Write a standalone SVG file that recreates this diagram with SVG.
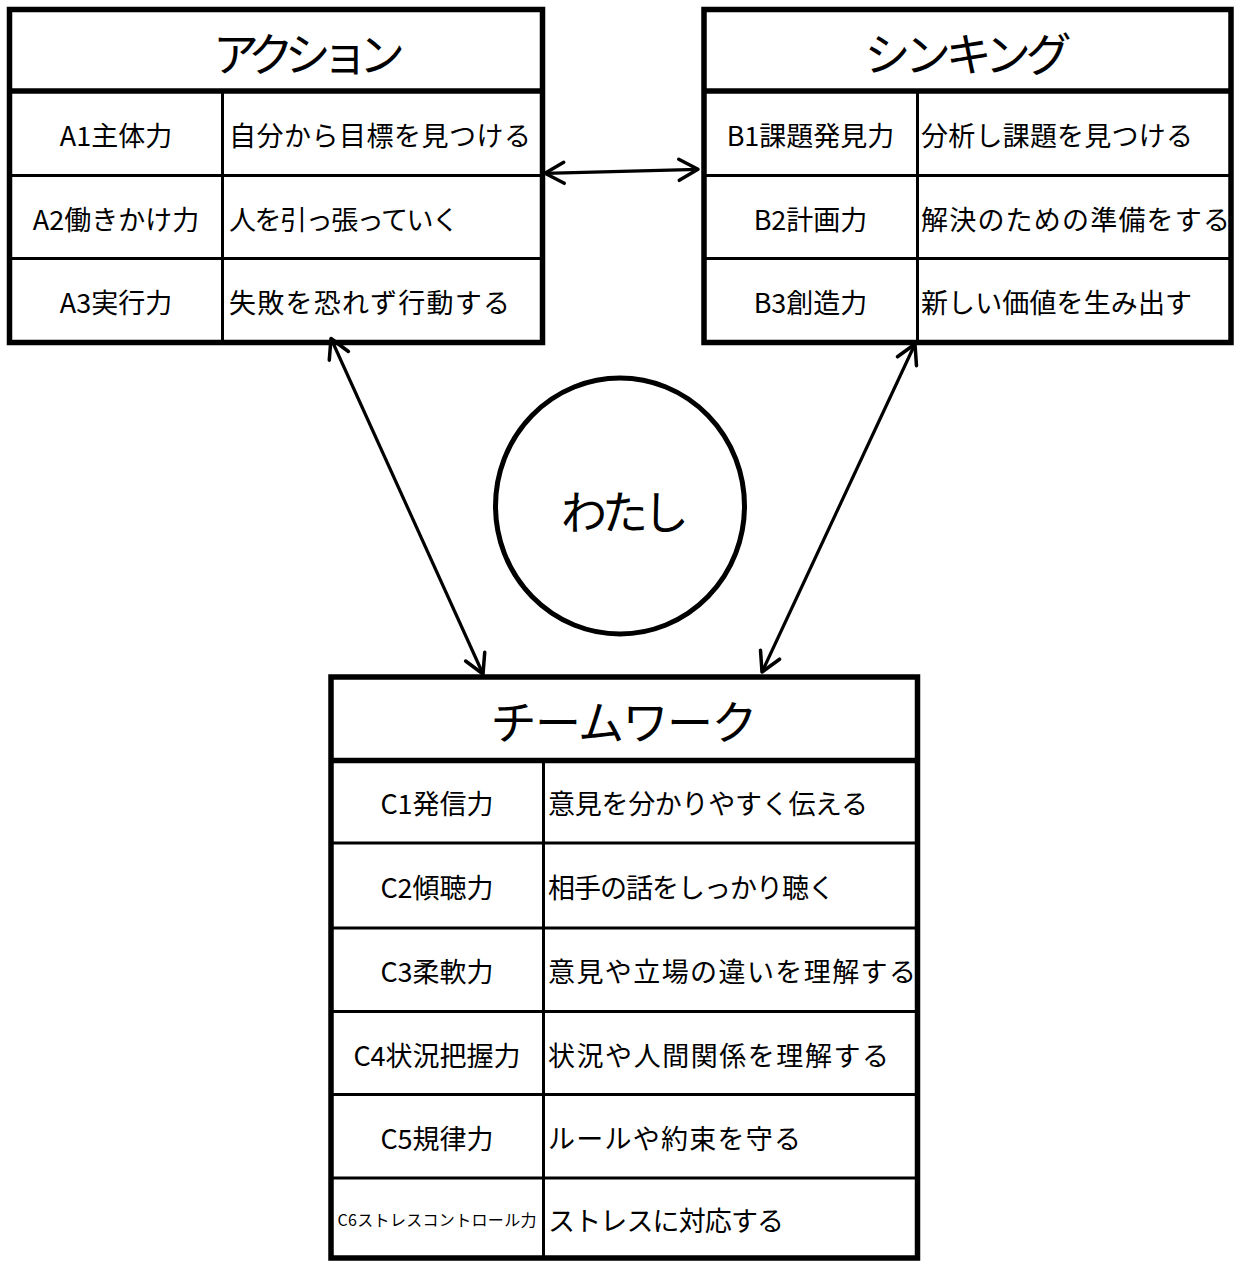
<svg xmlns="http://www.w3.org/2000/svg" width="1236" height="1261" viewBox="0 0 1236 1261">
<style>
.bg{fill:#ffffff}
.box{fill:#ffffff;stroke:#000;stroke-width:5.5}
.thick{stroke:#000;stroke-width:5.5}
.thin{stroke:#000;stroke-width:3}
.t{font-family:"Noto Sans CJK JP","Noto Sans CJK SC",sans-serif;fill:#000;dominant-baseline:central}
.title{font-size:46px;text-anchor:middle}
.cell{font-size:27px}
.mid{text-anchor:middle}
.conn{stroke:#000;stroke-width:3.2;fill:none;marker-start:url(#ah);marker-end:url(#ah)}
.circle{fill:#fff;stroke:#000;stroke-width:5}
</style>
<defs>
<marker id="ah" markerUnits="userSpaceOnUse" markerWidth="40" markerHeight="40" viewBox="-30 -20 40 40" refX="0" refY="0" orient="auto-start-reverse">
<path d="M-19,-10.5 L0,0 L-19,10.5" fill="none" stroke="#000" stroke-width="3.5" stroke-linecap="round" stroke-linejoin="round"/>
</marker>
</defs>
<rect class="bg" x="0" y="0" width="1236" height="1261"/>

<g id="node-action">
<rect class="box" x="9.5" y="9.5" width="533" height="333"/>
<line class="thick" x1="9.5" y1="91" x2="542.5" y2="91"/>
<line class="thin" x1="9.5" y1="175.5" x2="542.5" y2="175.5"/>
<line class="thin" x1="9.5" y1="258.5" x2="542.5" y2="258.5"/>
<line class="thin" x1="222.5" y1="91" x2="222.5" y2="342.5"/>
<text class="t title" x="309" y="51" textLength="192">アクション</text>
<text class="t cell mid" x="116" y="134">A1主体力</text>
<text class="t cell mid" x="116" y="218">A2働きかけ力</text>
<text class="t cell mid" x="116" y="301">A3実行力</text>
<text class="t cell" x="229" y="134" textLength="302">自分から目標を見つける</text>
<text class="t cell" x="229" y="218" textLength="230">人を引っ張っていく</text>
<text class="t cell" x="229" y="301" textLength="281">失敗を恐れず行動する</text>
</g>

<g id="node-thinking">
<rect class="box" x="704" y="9.5" width="527" height="333"/>
<line class="thick" x1="704" y1="91" x2="1231" y2="91"/>
<line class="thin" x1="704" y1="175.5" x2="1231" y2="175.5"/>
<line class="thin" x1="704" y1="258.5" x2="1231" y2="258.5"/>
<line class="thin" x1="917.5" y1="91" x2="917.5" y2="342.5"/>
<text class="t title" x="968" y="51" textLength="207">シンキング</text>
<text class="t cell mid" x="810.5" y="134">B1課題発見力</text>
<text class="t cell mid" x="810.5" y="218">B2計画力</text>
<text class="t cell mid" x="810.5" y="301">B3創造力</text>
<text class="t cell" x="921" y="134" textLength="272">分析し課題を見つける</text>
<text class="t cell" x="921" y="218" textLength="309">解決のための準備をする</text>
<text class="t cell" x="921" y="301" textLength="271">新しい価値を生み出す</text>
</g>

<g id="node-teamwork">
<rect class="box" x="331" y="677" width="586.5" height="581"/>
<line class="thick" x1="331" y1="760.5" x2="917.5" y2="760.5"/>
<line class="thin" x1="331" y1="843" x2="917.5" y2="843"/>
<line class="thin" x1="331" y1="928" x2="917.5" y2="928"/>
<line class="thin" x1="331" y1="1011.5" x2="917.5" y2="1011.5"/>
<line class="thin" x1="331" y1="1094.5" x2="917.5" y2="1094.5"/>
<line class="thin" x1="331" y1="1178" x2="917.5" y2="1178"/>
<line class="thin" x1="543.5" y1="760.5" x2="543.5" y2="1258"/>
<text class="t title" x="624" y="719" textLength="267">チームワーク</text>
<text class="t cell mid" x="437" y="802.5">C1発信力</text>
<text class="t cell mid" x="437" y="886.5">C2傾聴力</text>
<text class="t cell mid" x="437" y="970.5">C3柔軟力</text>
<text class="t cell mid" x="437" y="1054">C4状況把握力</text>
<text class="t cell mid" x="437" y="1137">C5規律力</text>
<text class="t mid" x="437" y="1219" font-size="16" textLength="199">C6ストレスコントロール力</text>
<text class="t cell" x="548" y="802.5" textLength="320">意見を分かりやすく伝える</text>
<text class="t cell" x="548" y="886.5" textLength="287">相手の話をしっかり聴く</text>
<text class="t cell" x="548" y="970.5" textLength="368">意見や立場の違いを理解する</text>
<text class="t cell" x="548" y="1054" textLength="341">状況や人間関係を理解する</text>
<text class="t cell" x="548" y="1137" textLength="253">ルールや約束を守る</text>
<text class="t cell" x="548" y="1219" textLength="236">ストレスに対応する</text>
</g>

<g id="node-watashi">
<ellipse class="circle" cx="620" cy="506" rx="124.5" ry="128"/>
<text class="t mid" x="625" y="509" font-size="46" textLength="128">わたし</text>
</g>

<g id="connectors">
<line class="conn" x1="545" y1="173.3" x2="698" y2="169.3"/>
<line class="conn" x1="331" y1="338.5" x2="483" y2="674"/>
<line class="conn" x1="915" y1="344" x2="762" y2="672"/>
</g>
</svg>
